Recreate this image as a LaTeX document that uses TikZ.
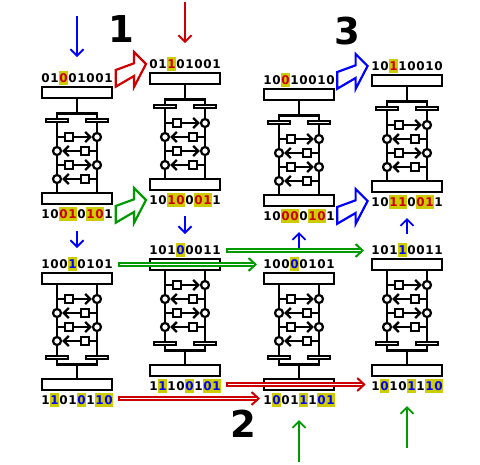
\documentclass[tikz,border=0pt]{standalone}
\usepackage{fontspec}
\setmainfont{DejaVu Sans}
\usetikzlibrary{arrows.meta}
\definecolor{hlyellow}{HTML}{CCCC00}
\definecolor{bitred}{HTML}{CC0000}
\definecolor{bitblue}{HTML}{0000FF}
\definecolor{bitgreen}{HTML}{009900}
\tikzset{
 wire/.style={line width=2.8pt},
 tapwire/.style={line width=2.8pt,-{Straight Barb[length=5pt,width=10pt,line width=2.4pt]}},
 regbox/.style={rectangle,draw,fill=white,line width=2.4pt,minimum width=70pt,minimum height=11pt,inner sep=0},
 tapbar/.style={rectangle,draw,fill=white,line width=2.2pt,minimum width=22pt,minimum height=3.4pt,inner sep=0},
 tapsq/.style={rectangle,draw,fill=white,line width=2.2pt,minimum size=8pt,inner sep=0},
 tapdot/.style={circle,draw,fill=white,line width=2.2pt,minimum size=8pt,inner sep=0},
 bitk/.style={inner sep=0,font=\bfseries\fontsize{12}{12}\selectfont,text=black},
 bitr/.style={bitk,fill=hlyellow,minimum width=9.2pt,minimum height=13.4pt,text=bitred},
 bitb/.style={bitk,fill=hlyellow,minimum width=9.2pt,minimum height=13.4pt,text=bitblue},
 thinarrow/.style={line width=1.8pt,-{Straight Barb[length=6.5pt,width=13pt,line width=1.8pt]}},
 pipearrow/.style={line width=2pt,double=white,double distance=1.2pt,{Bar[width=5.2pt,line width=2pt]}-{Straight Barb[length=7pt,width=13pt,line width=2pt]}},
 bigarrow/.style={line width=2.2pt,fill=white,line join=miter},
 bignum/.style={inner sep=0,font=\bfseries\fontsize{37}{37}\selectfont}
}
% name, x, y of first row
\newcommand{\taprows}[3]{
 \foreach \r in {0,2} {
  \node[tapsq] (#1sq\r) at (#2-8,#3+14*\r) {};
  \node[tapdot] (#1dot\r) at (#2+20,#3+14*\r) {};
  \draw[wire] (#2-20,#3+14*\r) -- (#1sq\r);
  \draw[tapwire] (#1sq\r) -- (#1dot\r);
 }
 \foreach \r in {1,3} {
  \node[tapsq] (#1sq\r) at (#2+8,#3+14*\r) {};
  \node[tapdot] (#1dot\r) at (#2-20,#3+14*\r) {};
  \draw[wire] (#2+20,#3+14*\r) -- (#1sq\r);
  \draw[tapwire] (#1sq\r) -- (#1dot\r);
 }
}
% bars under the top box
\newcommand{\cellup}[3]{
 \node[regbox] (#1top) at (#2,#3-.5) {};
 \node[regbox] (#1bot) at (#2,#3+105.5) {};
 \node[tapbar] (#1barl) at (#2-20,#3+27.5) {};
 \node[tapbar] (#1barr) at (#2+20,#3+27.5) {};
 \draw[wire] (#1barl.north) -- ++(0,-4.5) -| (#1barr.north);
 \draw[wire] (#1top) -- (#2,#3+22);
 \draw[wire] (#1barl.south) -- (#1barl.south |- #1bot.north);
 \draw[wire] (#1barr.south) -- (#1barr.south |- #1bot.north);
 \taprows{#1}{#2}{#3+44}
}
% bars over the bottom box
\newcommand{\celldown}[3]{
 \node[regbox] (#1top) at (#2,#3-.5) {};
 \node[regbox] (#1bot) at (#2,#3+105.5) {};
 \node[tapbar] (#1barl) at (#2-20,#3+78.5) {};
 \node[tapbar] (#1barr) at (#2+20,#3+78.5) {};
 \draw[wire] (#1barl.south) -- ++(0,4.5) -| (#1barr.south);
 \draw[wire] (#1bot) -- (#2,#3+84);
 \draw[wire] (#1barl.north) -- (#1barl.north |- #1top.south);
 \draw[wire] (#1barr.north) -- (#1barr.north |- #1top.south);
 \taprows{#1}{#2}{#3+20}
}
\newcommand{\bits}[4]{
 \foreach \b/\k [count=\i from 0] in {#4}
  \node[bit\k] (#1\i) at (#2-31.5+9*\i,#3) {\b};
}
\newcommand{\blockarrow}[3]{
 \draw[bigarrow,draw=#1,shift={(#2,#3)}] (0,0) -- (18.3,-6.7) -- (18.3,-18) -- (30.3,-6) -- (18.3,17) -- (18.3,6) -- (0,16.7) -- cycle;
}
\begin{document}
\begin{tikzpicture}[x=1pt,y=-1pt]
\useasboundingbox (0,0) rectangle (480,464);
\cellup{a}{77}{93}
\cellup{b}{185}{79}
\cellup{c}{299}{95}
\cellup{d}{407}{81}
\celldown{e}{77}{279}
\celldown{f}{185}{265}
\celldown{g}{299}{279}
\celldown{h}{407}{265}
\bits{atop}{77}{78}{0/k,1/k,0/r,0/k,1/k,0/k,0/k,1/k}
\bits{abot}{77}{214}{1/k,0/k,0/r,1/r,0/k,1/r,0/r,1/k}
\bits{btop}{185}{64}{0/k,1/k,1/r,0/k,1/k,0/k,0/k,1/k}
\bits{bbot}{185}{200}{1/k,0/k,1/r,0/r,0/k,0/r,1/r,1/k}
\bits{ctop}{299}{80}{1/k,0/k,0/r,1/k,0/k,0/k,1/k,0/k}
\bits{cbot}{299}{216}{1/k,0/k,0/r,0/r,0/k,1/r,0/r,1/k}
\bits{dtop}{407}{66}{1/k,0/k,1/r,1/k,0/k,0/k,1/k,0/k}
\bits{dbot}{407}{202}{1/k,0/k,1/r,1/r,0/k,0/r,1/r,1/k}
\bits{etop}{77}{264}{1/k,0/k,0/k,1/b,0/k,1/k,0/k,1/k}
\bits{ebot}{77}{400}{1/k,1/b,0/k,1/k,0/b,1/k,1/b,0/b}
\bits{ftop}{185}{250}{1/k,0/k,1/k,0/b,0/k,0/k,1/k,1/k}
\bits{fbot}{185}{386}{1/k,1/b,1/k,0/k,0/b,1/k,0/b,1/b}
\bits{gtop}{299}{264}{1/k,0/k,0/k,0/b,0/k,1/k,0/k,1/k}
\bits{gbot}{299}{400}{1/k,0/b,0/k,1/k,1/b,1/k,0/b,1/b}
\bits{htop}{407}{250}{1/k,0/k,1/k,1/b,0/k,0/k,1/k,1/k}
\bits{hbot}{407}{386}{1/k,0/b,1/k,0/k,1/b,1/k,1/b,0/b}
\node[bignum] (one) at (121,29) {1};
\node[bignum] (two) at (243,424) {2};
\node[bignum] (three) at (347,31) {3};
% thin arrows
\coordinate (inA) at (77,16);
\coordinate (inAe) at (77,57);
\coordinate (inB) at (185,2);
\coordinate (inBe) at (185,43);
\coordinate (acS) at (77,231);
\coordinate (acE) at (77,248);
\coordinate (bdS) at (185,216);
\coordinate (bdE) at (185,234);
\coordinate (gcS) at (299,251);
\coordinate (gcE) at (299,232);
\coordinate (hdS) at (407,234);
\coordinate (hdE) at (407,218);
\coordinate (inG) at (299,462);
\coordinate (inGe) at (299,420);
\coordinate (inH) at (407,448);
\coordinate (inHe) at (407,406);
\draw[thinarrow,bitblue] (inA) -- (inAe);
\draw[thinarrow,bitred] (inB) -- (inBe);
\draw[thinarrow,bitblue] (acS) -- (acE);
\draw[thinarrow,bitblue] (bdS) -- (bdE);
\draw[thinarrow,bitblue] (gcS) -- (gcE);
\draw[thinarrow,bitblue] (hdS) -- (hdE);
\draw[thinarrow,bitgreen] (inG) -- (inGe);
\draw[thinarrow,bitgreen] (inH) -- (inHe);
% double arrows
\coordinate (pipeA) at (225.7,250.5);
\coordinate (pipeAe) at (364,250.5);
\coordinate (pipeB) at (117.5,264.5);
\coordinate (pipeBe) at (257,264.5);
\coordinate (pipeC) at (117.5,398.5);
\coordinate (pipeCe) at (260,398.5);
\coordinate (pipeD) at (225.7,384.5);
\coordinate (pipeDe) at (365.7,384.5);
\draw[pipearrow,bitgreen] (pipeA) -- (pipeAe);
\draw[pipearrow,bitgreen] (pipeB) -- (pipeBe);
\draw[pipearrow,bitred] (pipeC) -- (pipeCe);
\draw[pipearrow,bitred] (pipeD) -- (pipeDe);
% block arrows
\blockarrow{bitred}{115.7}{70}
\blockarrow{bitgreen}{115.7}{206}
\blockarrow{bitblue}{337.3}{72}
\blockarrow{bitblue}{337.3}{207}
\end{tikzpicture}
\end{document}
